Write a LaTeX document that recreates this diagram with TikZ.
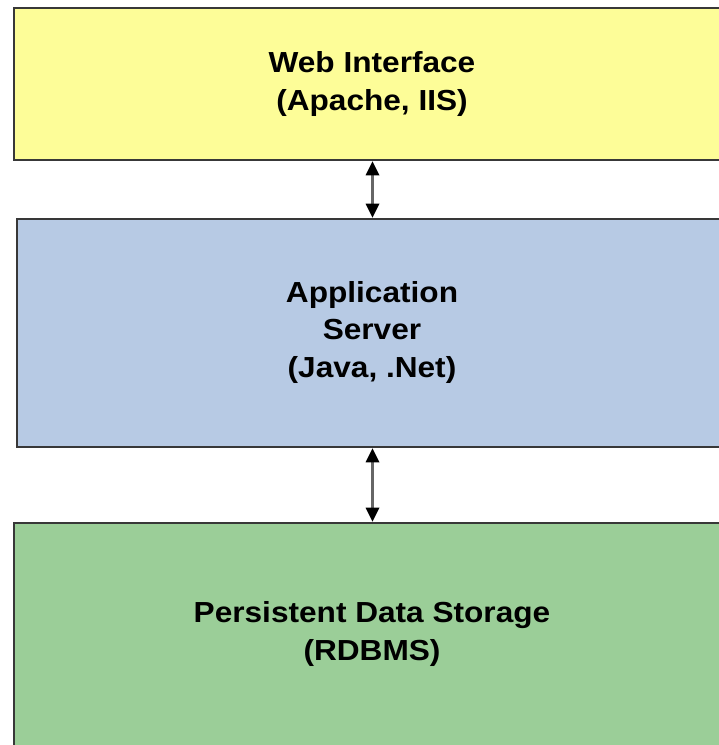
\documentclass[tikz,border=0pt]{standalone}
\usepackage{fontspec}
\setmainfont[FakeStretch=1.09]{Liberation Sans}
\usetikzlibrary{arrows.meta}
\definecolor{webfill}{HTML}{FDFD98}
\definecolor{appfill}{HTML}{B7CAE4}
\definecolor{dbfill}{HTML}{9BCE98}
\definecolor{edge}{HTML}{383838}
\tikzset{
  layer/.style={draw=edge, line width=2.6pt, rectangle, inner sep=0pt},
  lbl/.style={align=center, font=\fontsize{29}{37.5}\selectfont\bfseries, text=black},
  link/.style={draw=black!60, line width=2.6pt,
    {Triangle[length=14pt,width=14pt,fill=black,line width=0pt]}-{Triangle[length=14pt,width=14pt,fill=black,line width=0pt]}}
}
\begin{document}
\begin{tikzpicture}[x=1pt,y=-1pt]
\clip (0,0) rectangle (719,745);
\fill[white] (0,0) rectangle (719,745);
\node[layer, fill=webfill, minimum width=717, minimum height=152] (web) at (372.5,84) {};
\node[layer, fill=appfill, minimum width=711, minimum height=228] (app) at (372.5,333) {};
\node[layer, fill=dbfill, minimum width=717, minimum height=260] (db) at (372.5,653) {};
\node[lbl] (webt) at (372,84) {Web Interface\\(Apache, IIS)};
\node[lbl] (appt) at (372,332) {Application\\Server\\(Java, .Net)};
\node[lbl] (dbt) at (372,634) {Persistent Data Storage\\(RDBMS)};
\draw[link] (web.south) -- (app.north);
\draw[link] (app.south) -- (db.north);
\end{tikzpicture}
\end{document}
